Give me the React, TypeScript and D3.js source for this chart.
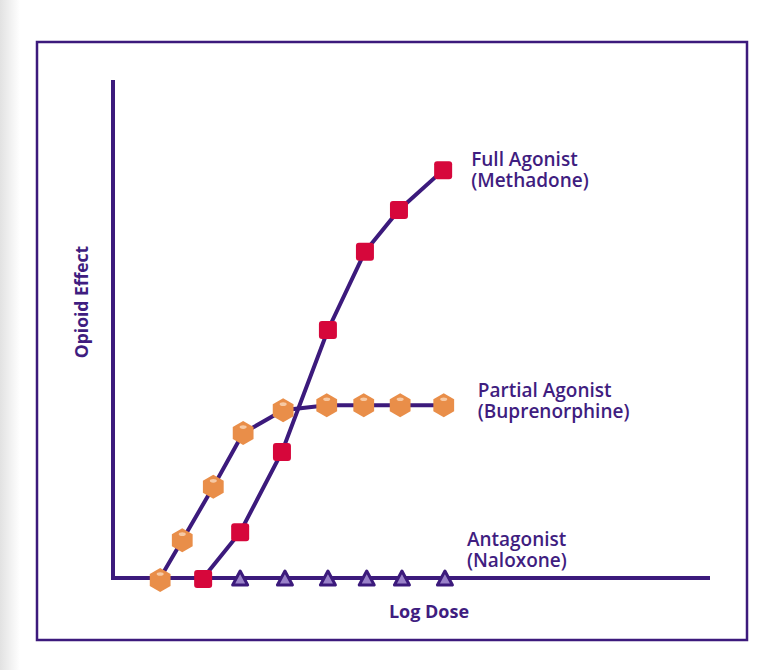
import React from "react";
import * as d3 from "d3";

// Data (log dose in arbitrary units 0-100, effect in % of max 0-100)
const partialDose = [7.9, 11.6, 16.8, 21.8, 28.5, 35.8, 42.0, 48.1, 55.4];
const partialEffect = [0, 7.6, 18.3, 29.1, 33.7, 34.7, 34.7, 34.7, 34.7];
const fullDose = [15.1, 21.3, 28.3, 36.0, 42.2, 47.9, 55.3];
const fullEffect = [0, 9.2, 25.3, 49.8, 65.5, 73.9, 81.9];
const antagonistDose = [21.3, 28.8, 36.0, 42.5, 48.4, 55.6];
const antagonistEffect = [0, 0, 0, 0, 0, 0];
const fullLabel = ["Full Agonist", "(Methadone)"];
const partialLabel = ["Partial Agonist", "(Buprenorphine)"];
const antagonistLabel = ["Antagonist", "(Naloxone)"];
const xAxisTitle = "Log Dose";
const yAxisTitle = "Opioid Effect";

const W = 772;
const H = 670;
const PURPLE = "#3c1a7c";
const TEXT = "#3f1d80";
const ORANGE = "#e98e49";
const RED = "#d6073b";
const FONT = "'Open Sans', 'Liberation Sans', sans-serif";

const x = d3.scaleLinear().domain([0, 100]).range([113, 710]);
const y = d3.scaleLinear().domain([0, 100]).range([578, 80]);

type P = [number, number];
const zip = (a: number[], b: number[]): P[] => a.map((v, i) => [v, b[i]]);
const partialPts = zip(partialDose, partialEffect);
const fullPts = zip(fullDose, fullEffect);
const antPts = zip(antagonistDose, antagonistEffect);

const line = d3
  .line<P>()
  .x((d) => x(d[0]))
  .y((d) => y(d[1]));

function hexPath(cx: number, cy: number, r: number) {
  const pts: string[] = [];
  for (let i = 0; i < 6; i++) {
    const a = (Math.PI / 3) * i - Math.PI / 2;
    pts.push(`${cx + r * Math.cos(a)},${cy + r * Math.sin(a)}`);
  }
  return "M" + pts.join("L") + "Z";
}

export default function App() {
  const labelLines = (lines: string[], lx: number, ly: number, key: string) => (
    <g key={key}>
      {lines.map((t, i) => (
        <text
          key={i}
          x={lx}
          y={ly + i * 21}
          fill={TEXT}
          fontFamily={FONT}
          fontWeight={600}
          fontSize={19}
        >
          {t}
        </text>
      ))}
    </g>
  );
  const last = (pts: P[]) => pts[pts.length - 1];
  const fl = last(fullPts);
  const pl = last(partialPts);
  const al = last(antPts);

  return (
    <svg
      width={W}
      height={H}
      style={{ position: "absolute", left: 0, top: 0, background: "#fff" }}
    >
      <defs>
        <linearGradient id="edge" x1="0" x2="1" y1="0" y2="0">
          <stop offset="0" stopColor="#e2e2e2" />
          <stop offset="1" stopColor="#ffffff" />
        </linearGradient>
      </defs>
      <rect x={0} y={0} width={W} height={H} fill="#fff" />
      <rect x={0} y={0} width={20} height={H} fill="url(#edge)" />
      <rect
        x={37}
        y={42}
        width={710}
        height={598}
        fill="#fff"
        stroke={PURPLE}
        strokeWidth={2.5}
      />
      {/* axes */}
      <line x1={x(0)} x2={x(0)} y1={y(100)} y2={y(0) + 2} stroke={PURPLE} strokeWidth={4} />
      <line x1={x(0) - 2} x2={x(100)} y1={y(0)} y2={y(0)} stroke={PURPLE} strokeWidth={4} />

      {/* series lines */}
      <path d={line(partialPts) || ""} fill="none" stroke={PURPLE} strokeWidth={4} />
      <path d={line(fullPts) || ""} fill="none" stroke={PURPLE} strokeWidth={4} />

      {/* antagonist triangles */}
      {antPts.map((d, i) => {
        const cx = x(d[0]);
        const cy = y(d[1]) + 1;
        return (
          <path
            key={"t" + i}
            d={`M${cx},${cy - 8}L${cx + 7.5},${cy + 6}L${cx - 7.5},${cy + 6}Z`}
            fill="#9a82c9"
            stroke={PURPLE}
            strokeWidth={3}
            strokeLinejoin="round"
          />
        );
      })}

      {/* partial agonist hexagons */}
      {partialPts.map((d, i) => {
        const cx = x(d[0]);
        const cy = y(d[1]) + (i === 0 ? 2 : 0);
        return (
          <g key={"h" + i}>
            <path d={hexPath(cx, cy, 12)} fill={ORANGE} />
            <ellipse cx={cx} cy={cy - 6} rx={3.5} ry={1.8} fill="#f6c9a4" />
          </g>
        );
      })}

      {/* full agonist squares */}
      {fullPts.map((d, i) => {
        const cx = x(d[0]);
        const cy = y(d[1]) + (i === 0 ? 1 : 0);
        return (
          <rect
            key={"s" + i}
            x={cx - 9}
            y={cy - 9}
            width={18}
            height={18}
            rx={3}
            fill={RED}
          />
        );
      })}

      {/* labels */}
      {labelLines(fullLabel, x(fl[0]) + 28, y(fl[1]) - 4, "fl")}
      {labelLines(partialLabel, x(pl[0]) + 34, y(pl[1]) - 8, "pl")}
      {labelLines(antagonistLabel, x(al[0]) + 22, y(al[1]) - 32, "al")}

      <text
        x={429}
        y={618}
        textAnchor="middle"
        fill={TEXT}
        fontFamily={FONT}
        fontWeight={700}
        fontSize={18}
      >
        {xAxisTitle}
      </text>
      <text
        transform={`translate(88,302) rotate(-90)`}
        textAnchor="middle"
        fill={TEXT}
        fontFamily={FONT}
        fontWeight={700}
        fontSize={17.5}
      >
        {yAxisTitle}
      </text>
    </svg>
  );
}
